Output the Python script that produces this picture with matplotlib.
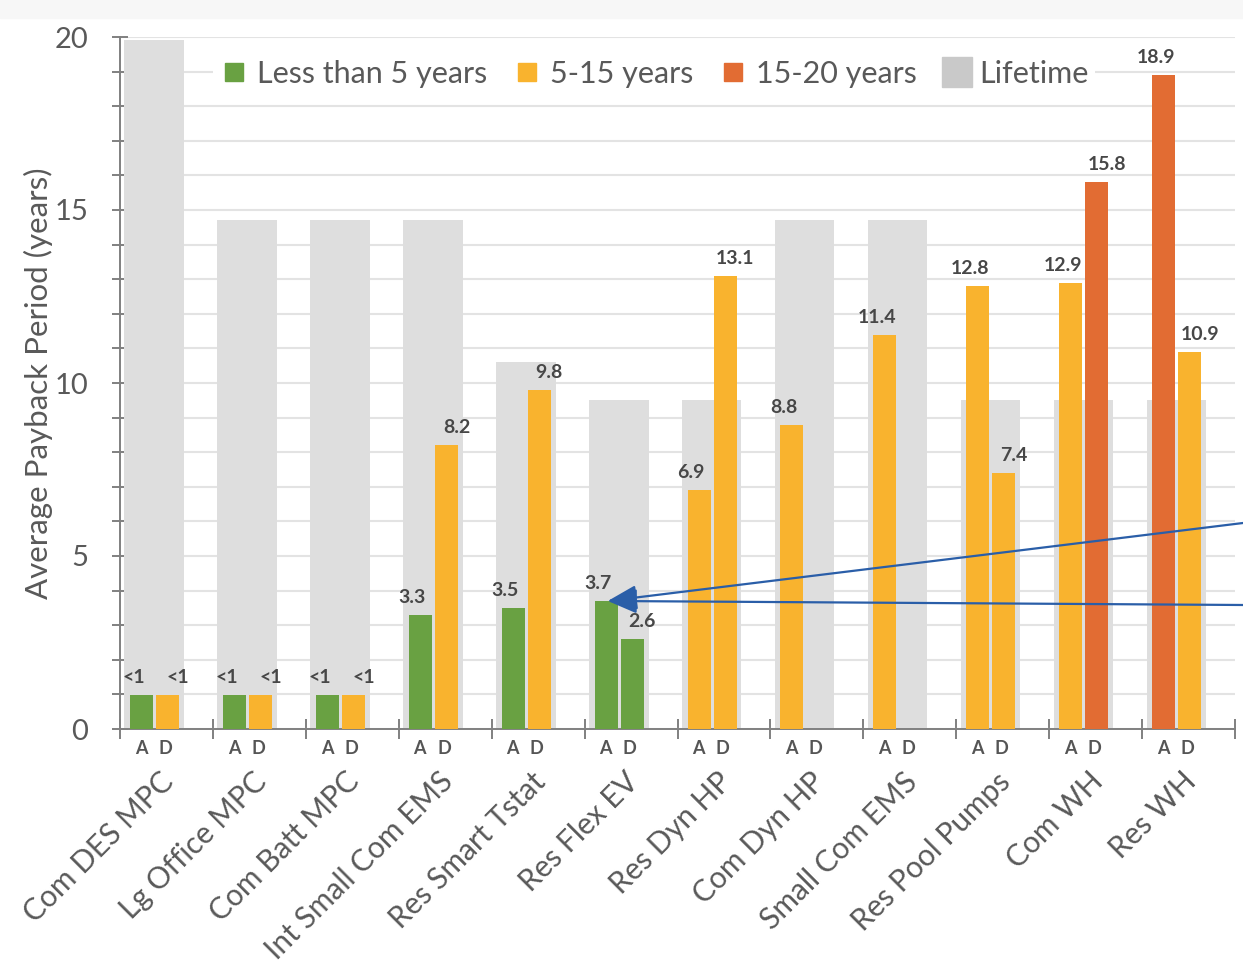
import matplotlib.pyplot as plt
from matplotlib.lines import Line2D
from matplotlib.patches import Rectangle
import numpy as np

plt.rcParams['font.family'] = ['Lato', 'DejaVu Sans']

categories = ["Com DES MPC", "Lg Office MPC", "Com Batt MPC", "Int Small Com EMS",
              "Res Smart Tstat", "Res Flex EV", "Res Dyn HP", "Com Dyn HP",
              "Small Com EMS", "Res Pool Pumps", "Com WH", "Res WH"]

# average payback in years for the A and D cases (None = no D case)
payback_a = [0.99, 0.99, 0.99, 3.3, 3.5, 3.7, 6.9, 8.8, 11.4, 12.8, 12.9, 18.9]
payback_d = [0.99, 0.99, 0.99, 8.2, 9.8, 2.6, 13.1, None, None, 7.4, 15.8, 10.9]

# payback band each bar is reported in
band_a = ["<5", "<5", "<5", "<5", "<5", "<5", "5-15", "5-15", "5-15", "5-15", "5-15", "15-20"]
band_d = ["5-15", "5-15", "5-15", "5-15", "5-15", "<5", "5-15", None, None, "5-15", "15-20", "5-15"]

# equipment lifetime in years
lifetime = [19.9, 14.7, 14.7, 14.7, 10.6, 9.5, 9.5, 14.7, 14.7, 9.5, 9.5, 9.5]

band_names = {"<5": "Less than 5 years", "5-15": "5-15 years", "15-20": "15-20 years"}
band_colors = {"<5": "#69a142", "5-15": "#f9b32e", "15-20": "#e26c33"}
GRAY = "#dedede"
TEXT = "#595959"
LABEL = "#474747"
ARROW = "#2a5ea8"


def value_text(v):
    return "<1" if v < 1 else f"{v:.1f}"


def main():
    fig = plt.figure(figsize=(12.43, 9.65), dpi=100)
    fig.patches.append(Rectangle((0, 1 - 18 / 965), 1, 18 / 965,
                                 transform=fig.transFigure, color="#f7f7f7", zorder=0))
    ax = fig.add_axes([120 / 1243, 236 / 965, 1115 / 1243, 692 / 965])

    x = np.arange(len(categories))
    bw = 0.248

    ax.bar(x + 0.048, lifetime, width=0.64, align="edge", color=GRAY, zorder=2)

    for i in range(len(categories)):
        a = payback_a[i]
        ax.bar(i + 0.108, a, width=bw, align="edge", color=band_colors[band_a[i]], zorder=3)
        ax.annotate(value_text(a), (i + 0.108 + bw / 2, a), xytext=(-8, 9),
                    textcoords="offset pixels", ha="center", va="bottom",
                    fontsize=14, fontweight="bold", color=LABEL, zorder=5)
        d = payback_d[i]
        if d is not None:
            ax.bar(i + 0.389, d, width=bw, align="edge", color=band_colors[band_d[i]], zorder=3)
            ax.annotate(value_text(d), (i + 0.389 + bw / 2, d), xytext=(10, 9),
                        textcoords="offset pixels", ha="center", va="bottom",
                        fontsize=14, fontweight="bold", color=LABEL, zorder=5)

        # case labels under each group
        ax.annotate("A", (i + 0.227, 0), xytext=(0, -19), textcoords="offset pixels",
                    ha="center", va="center", fontsize=13, fontweight="bold",
                    color="#555555", annotation_clip=False)
        ax.annotate("D", (i + 0.486, 0), xytext=(0, -19), textcoords="offset pixels",
                    ha="center", va="center", fontsize=13, fontweight="bold",
                    color="#555555", annotation_clip=False)
        ax.annotate(categories[i], (i + 0.53, 0), xytext=(0, -48), textcoords="offset pixels",
                    rotation=45, rotation_mode="anchor", ha="right", va="center",
                    fontsize=21.5, color=TEXT, annotation_clip=False)

    # call-out arrows to the Res Flex EV A bar
    tip = (5 + 0.25, payback_a[5])
    for y_px in (523, 605):
        ax.annotate("", xy=tip, xytext=(1.0, 1 - y_px / 965), textcoords="figure fraction",
                    arrowprops=dict(arrowstyle="-|>,head_length=0.9,head_width=0.38",
                                    color=ARROW, lw=1.6, mutation_scale=20,
                                    shrinkA=0, shrinkB=0),
                    annotation_clip=False, zorder=6)

    ax.set_xlim(0, len(categories))
    ax.set_ylim(0, 20)
    ax.set_yticks(range(0, 21, 5))
    ax.set_yticks(range(0, 21), minor=True)
    ax.set_xticks(range(0, len(categories) + 1))
    ax.set_xticklabels([])
    ax.grid(axis="y", which="both", color="#e3e3e3", lw=1.5, zorder=0)
    ax.set_axisbelow(True)

    ax.tick_params(axis="y", which="both", direction="inout", length=11.5, width=1.4,
                   color="#808080", labelsize=21, labelcolor=TEXT, pad=17)
    ax.tick_params(axis="x", direction="inout", length=14, width=1.4, color="#808080")
    for s in ("top", "right"):
        ax.spines[s].set_visible(False)
    for s in ("left", "bottom"):
        ax.spines[s].set_color("#808080")
        ax.spines[s].set_linewidth(1.4)

    ax.set_ylabel("Average Payback Period (years)", fontsize=22.5, color=TEXT, labelpad=1)

    handles = [Line2D([], [], marker="s", ls="none", markersize=13, color=band_colors[k])
               for k in band_names]
    handles.append(Line2D([], [], marker="s", ls="none", markersize=22, color="#c9c9c9"))
    labels = list(band_names.values()) + ["Lifetime"]
    leg = ax.legend(handles, labels, loc="center", bbox_to_anchor=(0.479, 0.9465), ncol=4,
                    fontsize=22, frameon=True, framealpha=1, edgecolor="none",
                    handlelength=1.0, handletextpad=0.25, columnspacing=0.8,
                    borderpad=0.2)
    leg.get_frame().set_linewidth(0)
    for t in leg.get_texts():
        t.set_color(TEXT)
    leg.set_zorder(4)

    plt.savefig("out.png", dpi=100)


if __name__ == "__main__":
    main()
